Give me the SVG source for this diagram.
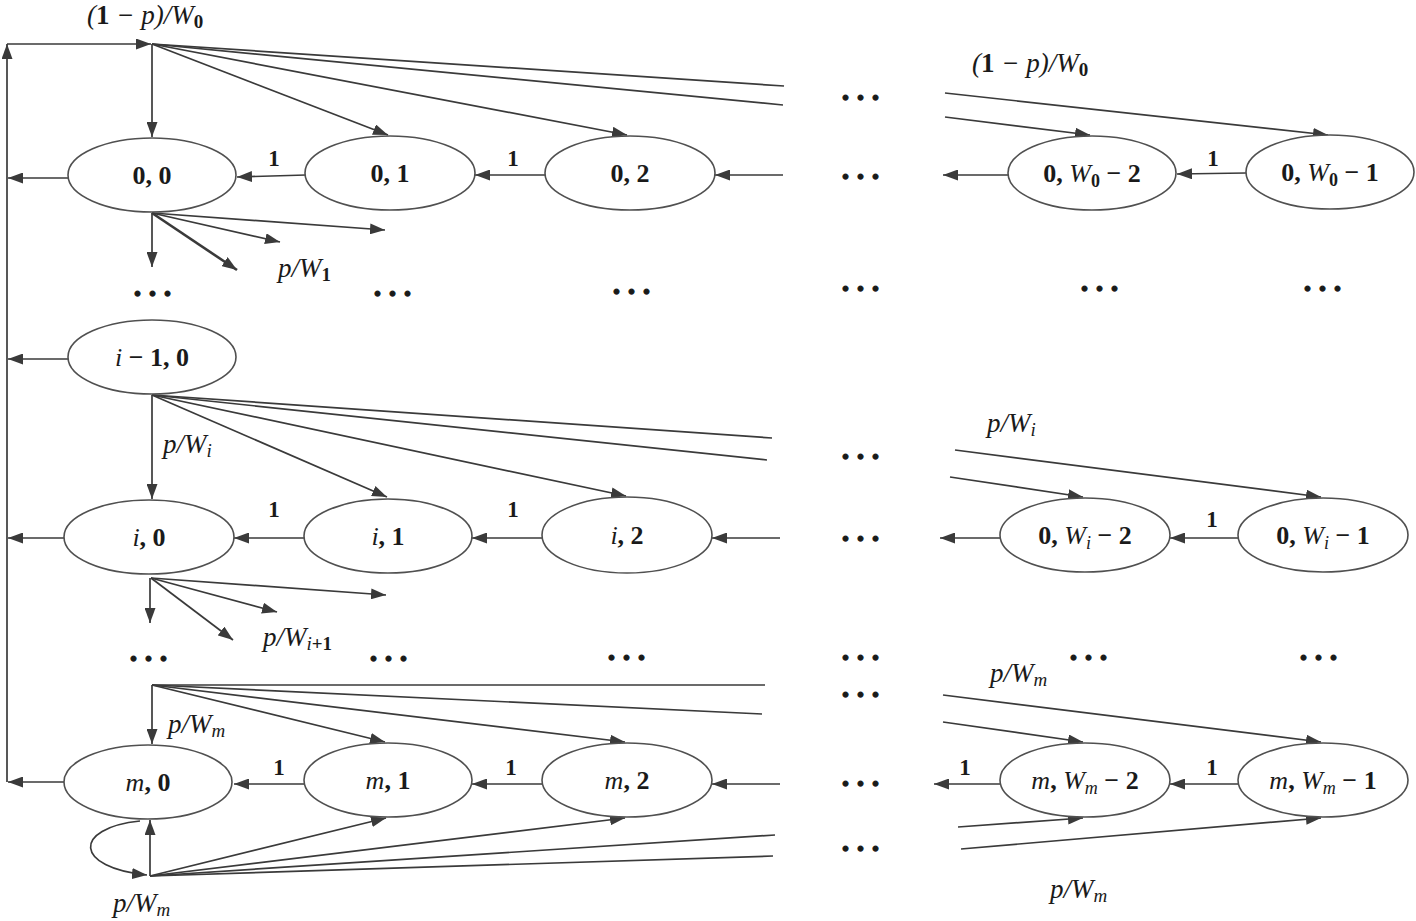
<svg xmlns="http://www.w3.org/2000/svg" width="1416" height="921" viewBox="0 0 1416 921">
<style>
.e{fill:#fff;stroke:#505050;stroke-width:1.6}
.c line,.c path{stroke:#3a3a3a;stroke-width:1.7;fill:none}
.a{marker-end:url(#ah)}
text{font-family:"Liberation Serif","Times New Roman",serif;fill:#1a1a1a}
.n{font-size:26px;font-weight:bold;text-anchor:middle}
.l{font-size:27px;font-style:italic}
.one{font-size:23px;font-weight:bold;text-anchor:middle}
.d{font-size:30px;font-weight:bold;text-anchor:middle;letter-spacing:5px;stroke:#1a1a1a;stroke-width:1.3}
.i{font-style:italic;font-weight:normal}
.b{font-weight:bold;font-style:normal}
</style>
<defs>
<marker id="ah" markerWidth="15" markerHeight="11" refX="15" refY="5.5" orient="auto" markerUnits="userSpaceOnUse"><path d="M0,0 L15,5.5 L0,11 z" fill="#3a3a3a"/></marker>
</defs>
<g id="connectors" class="c">
<line x1="7" y1="782" x2="7" y2="44" class="a"/>
<line x1="7" y1="44" x2="151" y2="44" class="a"/>
<line x1="68" y1="178" x2="8" y2="178" class="a"/>
<line x1="68" y1="359" x2="8" y2="359" class="a"/>
<line x1="64" y1="538" x2="8" y2="538" class="a"/>
<line x1="64" y1="782" x2="8" y2="782" class="a"/>
<line x1="152" y1="44" x2="152" y2="137" class="a"/>
<line x1="152" y1="44" x2="388" y2="135" class="a"/>
<line x1="152" y1="44" x2="627" y2="135" class="a"/>
<line x1="152" y1="44" x2="784" y2="86"/>
<line x1="152" y1="44" x2="783" y2="105"/>
<line x1="945" y1="93" x2="1328" y2="135" class="a"/>
<line x1="945" y1="117" x2="1090" y2="135" class="a"/>
<line x1="306" y1="175" x2="237" y2="177" class="a"/>
<line x1="545" y1="175" x2="475" y2="175" class="a"/>
<line x1="783" y1="175" x2="715" y2="175" class="a"/>
<line x1="1008" y1="175" x2="943" y2="175" class="a"/>
<line x1="1246" y1="173" x2="1177" y2="174" class="a"/>
<line x1="152" y1="213" x2="152" y2="267" class="a"/>
<line x1="152" y1="213" x2="237" y2="270" class="a" style="stroke-width:2.6"/>
<line x1="152" y1="213" x2="280" y2="242" class="a"/>
<line x1="152" y1="213" x2="385" y2="230" class="a"/>
<line x1="152" y1="395" x2="152" y2="499" class="a"/>
<line x1="152" y1="395" x2="387" y2="497" class="a"/>
<line x1="152" y1="395" x2="626" y2="496" class="a"/>
<line x1="152" y1="395" x2="772" y2="438"/>
<line x1="152" y1="395" x2="767" y2="460"/>
<line x1="955" y1="450" x2="1321" y2="497" class="a"/>
<line x1="950" y1="477" x2="1083" y2="497" class="a"/>
<line x1="304" y1="538" x2="234" y2="538" class="a"/>
<line x1="542" y1="538" x2="472" y2="538" class="a"/>
<line x1="780" y1="538" x2="712" y2="538" class="a"/>
<line x1="1000" y1="538" x2="940" y2="538" class="a"/>
<line x1="1238" y1="538" x2="1170" y2="538" class="a"/>
<line x1="150" y1="578" x2="150" y2="623" class="a"/>
<line x1="151" y1="578" x2="233" y2="640" class="a"/>
<line x1="151" y1="578" x2="277" y2="612" class="a"/>
<line x1="151" y1="578" x2="386" y2="595" class="a"/>
<line x1="152" y1="685" x2="152" y2="744" class="a"/>
<line x1="152" y1="685" x2="385" y2="742" class="a"/>
<line x1="152" y1="685" x2="625" y2="742" class="a"/>
<line x1="152" y1="685" x2="765" y2="685"/>
<line x1="152" y1="685" x2="762" y2="714"/>
<line x1="943" y1="695" x2="1321" y2="742" class="a"/>
<line x1="943" y1="722" x2="1083" y2="742" class="a"/>
<line x1="304" y1="784" x2="234" y2="784" class="a"/>
<line x1="542" y1="784" x2="472" y2="784" class="a"/>
<line x1="780" y1="784" x2="712" y2="784" class="a"/>
<line x1="1000" y1="784" x2="934" y2="784" class="a"/>
<line x1="1238" y1="784" x2="1170" y2="784" class="a"/>
<line x1="150" y1="876" x2="150" y2="820" class="a"/>
<line x1="150" y1="876" x2="386" y2="818" class="a"/>
<line x1="150" y1="876" x2="625" y2="818" class="a"/>
<line x1="150" y1="876" x2="775" y2="835"/>
<line x1="150" y1="876" x2="773" y2="856"/>
<line x1="958" y1="827" x2="1083" y2="818" class="a"/>
<line x1="961" y1="849" x2="1321" y2="818" class="a"/>
<path d="M140,821 C72,828 74,868 147,875" class="a"/>
</g>
<g id="n00"><ellipse class="e" cx="152" cy="175" rx="84" ry="37"/><text class="n" x="152" y="184">0, 0</text></g>
<g id="n01"><ellipse class="e" cx="390" cy="173" rx="85" ry="37"/><text class="n" x="390" y="182">0, 1</text></g>
<g id="n02"><ellipse class="e" cx="630" cy="173" rx="85" ry="37"/><text class="n" x="630" y="182">0, 2</text></g>
<g id="n0w2"><ellipse class="e" cx="1092" cy="173" rx="84" ry="37"/><text class="n" x="1092" y="182">0, <tspan class="i">W</tspan><tspan font-size="18" dy="5">0</tspan><tspan dy="-5"> − 2</tspan></text></g>
<g id="n0w1"><ellipse class="e" cx="1330" cy="172" rx="84" ry="37"/><text class="n" x="1330" y="181">0, <tspan class="i">W</tspan><tspan font-size="18" dy="5">0</tspan><tspan dy="-5"> − 1</tspan></text></g>
<g id="ni10"><ellipse class="e" cx="152" cy="357" rx="84" ry="37"/><text class="n" x="152" y="366"><tspan class="i">i</tspan> − 1, 0</text></g>
<g id="ni0"><ellipse class="e" cx="149" cy="537" rx="85" ry="37"/><text class="n" x="149" y="546"><tspan class="i">i</tspan>, 0</text></g>
<g id="ni1"><ellipse class="e" cx="388" cy="536" rx="84" ry="37"/><text class="n" x="388" y="545"><tspan class="i">i</tspan>, 1</text></g>
<g id="ni2"><ellipse class="e" cx="627" cy="535" rx="85" ry="38"/><text class="n" x="627" y="544"><tspan class="i">i</tspan>, 2</text></g>
<g id="n0wi2"><ellipse class="e" cx="1085" cy="535" rx="85" ry="37"/><text class="n" x="1085" y="544">0, <tspan class="i">W</tspan><tspan class="i" font-size="18" dy="5">i</tspan><tspan dy="-5"> − 2</tspan></text></g>
<g id="n0wi1"><ellipse class="e" cx="1323" cy="535" rx="85" ry="37"/><text class="n" x="1323" y="544">0, <tspan class="i">W</tspan><tspan class="i" font-size="18" dy="5">i</tspan><tspan dy="-5"> − 1</tspan></text></g>
<g id="nm0"><ellipse class="e" cx="148" cy="782" rx="84" ry="37"/><text class="n" x="148" y="791"><tspan class="i">m</tspan>, 0</text></g>
<g id="nm1"><ellipse class="e" cx="388" cy="780" rx="84" ry="37"/><text class="n" x="388" y="789"><tspan class="i">m</tspan>, 1</text></g>
<g id="nm2"><ellipse class="e" cx="627" cy="780" rx="85" ry="37"/><text class="n" x="627" y="789"><tspan class="i">m</tspan>, 2</text></g>
<g id="nmw2"><ellipse class="e" cx="1085" cy="780" rx="85" ry="37"/><text class="n" x="1085" y="789"><tspan class="i">m</tspan>, <tspan class="i">W</tspan><tspan class="i" font-size="18" dy="5">m</tspan><tspan dy="-5"> − 2</tspan></text></g>
<g id="nmw1"><ellipse class="e" cx="1323" cy="780" rx="85" ry="37"/><text class="n" x="1323" y="789"><tspan class="i">m</tspan>, <tspan class="i">W</tspan><tspan class="i" font-size="18" dy="5">m</tspan><tspan dy="-5"> − 1</tspan></text></g>
<g id="labels">
<text class="l" x="87" y="24" font-size="25">(<tspan class="b">1</tspan> − <tspan>p</tspan>)/W<tspan class="b" font-size="19" dy="4">0</tspan></text>
<text class="l" x="972" y="72" font-size="25">(<tspan class="b">1</tspan> − <tspan>p</tspan>)/W<tspan class="b" font-size="19" dy="4">0</tspan></text>
<text class="l" x="278" y="277">p/W<tspan class="b" font-size="19" dy="4">1</tspan></text>
<text class="l" x="163" y="453">p/W<tspan font-size="19" dy="4">i</tspan></text>
<text class="l" x="987" y="432">p/W<tspan font-size="19" dy="4">i</tspan></text>
<text class="l" x="263" y="646">p/W<tspan font-size="19" dy="4">i<tspan class="b">+1</tspan></tspan></text>
<text class="l" x="168" y="733">p/W<tspan font-size="19" dy="4">m</tspan></text>
<text class="l" x="990" y="682">p/W<tspan font-size="19" dy="4">m</tspan></text>
<text class="l" x="113" y="912">p/W<tspan font-size="19" dy="4">m</tspan></text>
<text class="l" x="1050" y="898">p/W<tspan font-size="19" dy="4">m</tspan></text>
<text class="one" x="274" y="166">1</text>
<text class="one" x="513" y="166">1</text>
<text class="one" x="1213" y="166">1</text>
<text class="one" x="274" y="517">1</text>
<text class="one" x="513" y="517">1</text>
<text class="one" x="1212" y="527">1</text>
<text class="one" x="279" y="775">1</text>
<text class="one" x="511" y="775">1</text>
<text class="one" x="965" y="775">1</text>
<text class="one" x="1212" y="775">1</text>
</g>
<g id="dots">
<text class="d" x="863" y="107">···</text>
<text class="d" x="863" y="186">···</text>
<text class="d" x="155" y="303">···</text>
<text class="d" x="395" y="303">···</text>
<text class="d" x="634" y="301">···</text>
<text class="d" x="863" y="298">···</text>
<text class="d" x="1102" y="298">···</text>
<text class="d" x="1325" y="298">···</text>
<text class="d" x="863" y="466">···</text>
<text class="d" x="863" y="548">···</text>
<text class="d" x="151" y="668">···</text>
<text class="d" x="391" y="668">···</text>
<text class="d" x="629" y="667">···</text>
<text class="d" x="863" y="667">···</text>
<text class="d" x="1091" y="667">···</text>
<text class="d" x="1321" y="667">···</text>
<text class="d" x="863" y="704">···</text>
<text class="d" x="863" y="793">···</text>
<text class="d" x="863" y="858">···</text>
</g>
</svg>
